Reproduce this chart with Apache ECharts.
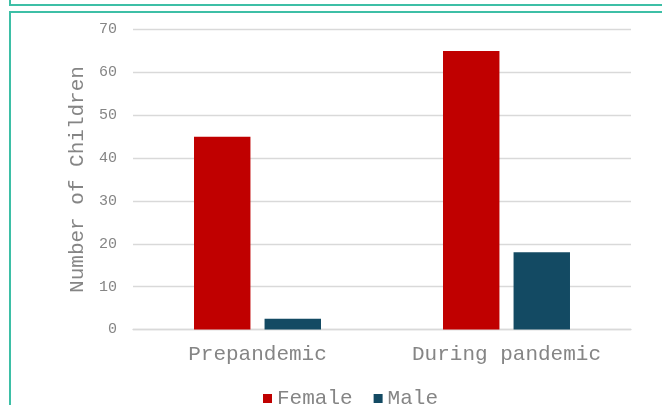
<!DOCTYPE html>
<html>
<head>
<meta charset="utf-8">
<script src="https://cdn.jsdelivr.net/npm/echarts@6/dist/echarts.min.js"></script>
<style>
  html, body { margin: 0; padding: 0; background: #fff; overflow: hidden; }
  .frame-top {
    position: absolute; left: 9px; top: -100px; width: 700px; height: 102px;
    border: 2px solid #3dbfa6;
  }
  .frame {
    position: absolute; left: 9px; top: 11px; width: 700px; height: 500px;
    border: 2px solid #3dbfa6;
  }
  #chart { position: absolute; left: 0; top: 0; width: 662px; height: 405px; }
</style>
</head>
<body>
<div class="frame-top"></div>
<div class="frame"></div>
<div id="chart"></div>
<script>
const categories = ['Prepandemic', 'During pandemic'];
const femaleValues = [45, 65];
const maleValues = [2.5, 18];
const yTicks = [0, 10, 20, 30, 40, 50, 60, 70];

const font = '"Liberation Mono", "DejaVu Sans Mono", monospace';
const textGrey = '#858585';

const chart = echarts.init(document.getElementById('chart'));

const option = {
  backgroundColor: 'transparent',
  animation: false,
  grid: {
    left: 133,
    right: 31,
    top: 29.5,
    bottom: 75.5
  },
  legend: {
    left: 258,
    top: 383,
    itemWidth: 9,
    itemHeight: 9,
    itemGap: 21,
    icon: 'rect',
    textStyle: { color: textGrey, fontFamily: font, fontSize: 21 },
    data: ['Female', 'Male']
  },
  xAxis: {
    type: 'category',
    data: categories,
    axisTick: { show: false },
    axisLine: { lineStyle: { color: '#d9d9d9', width: 1.3 } },
    axisLabel: { color: textGrey, fontFamily: font, fontSize: 21, margin: 14 }
  },
  yAxis: {
    type: 'value',
    min: yTicks[0],
    max: yTicks[yTicks.length - 1],
    interval: 10,
    name: 'Number of Children',
    nameLocation: 'middle',
    nameGap: 44,
    nameTextStyle: { color: textGrey, fontFamily: font, fontSize: 21 },
    axisLine: { show: false },
    axisTick: { show: false },
    axisLabel: { color: textGrey, fontFamily: font, fontSize: 15, margin: 16 },
    splitLine: { lineStyle: { color: '#d9d9d9', width: 1.3 } }
  },
  series: [
    {
      name: 'Female',
      type: 'bar',
      data: femaleValues,
      barGap: '25%',
      barCategoryGap: '49%',
      itemStyle: { color: '#c00000' }
    },
    {
      name: 'Male',
      type: 'bar',
      data: maleValues,
      itemStyle: { color: '#134a63' }
    }
  ]
};

chart.setOption(option);
</script>
</body>
</html>
